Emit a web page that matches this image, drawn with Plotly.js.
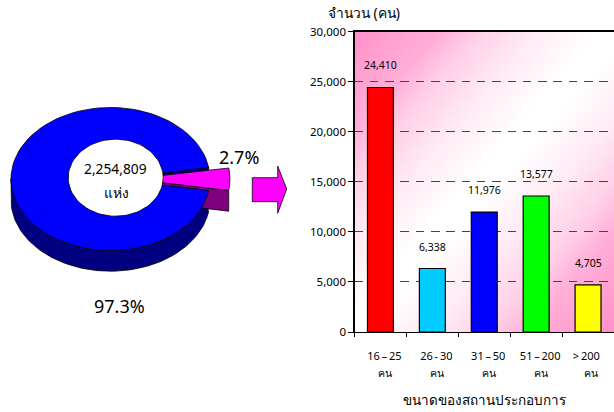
<!DOCTYPE html>
<html><head><meta charset="utf-8">
<script src="https://cdn.plot.ly/plotly-3.0.1.min.js"></script>
<style>html,body{margin:0;padding:0;background:#fff}</style>
</head><body><div id="chart" style="width:614px;height:412px"></div>
<script>
const categories = ['16\u2009–\u200925','26\u2009-\u200930','31\u2009–\u200950','51\u2009–\u2009200','>\u2009200'];
const tickLabels = ['16\u2009–\u200925','26\u2009-\u200930','31\u2009–\u200950','51\u2009–\u2009200','>\u2009200\u00a0\u00a0\u00a0\u00a0'];
const unitLabel = 'คน';
const employees = [24410, 6338, 11976, 13577, 4705];
const barColors = ['#ff0000','#00ccff','#0000ff','#00ff00','#ffff00'];
const yTicks = [0,5000,10000,15000,20000,25000,30000];
const pieLabels = ['97.3%','2.7%'];
const pieShares = [97.3, 2.7];
const totalText = '2,254,809';
const totalUnit = 'แห่ง';
const yTitle = 'จำนวน (คน)';
const xTitle = 'ขนาดของสถานประกอบการ';
const FONT = 'Noto Sans, Tahoma, sans-serif';

/* 3-D look of the pie, in page pixels (x2/y2 axes) */
const C = {x:110.5, y:179, rx:99.5, ry:71.5, depth:20.7, explode:20};
const HOLE = {x:115.7, y:177.7, rx:47.5, ry:38.5};
const sliceAngleBoost = 1.9;
const h = pieShares[1]/100*Math.PI*sliceAngleBoost;

function pt(c,t,dy){return [c.x+c.rx*Math.cos(t), c.y+c.ry*Math.sin(t)+(dy||0)];}
function arc(c,a,b,dy){const r=[];const n=90;for(let i=0;i<=n;i++)r.push(pt(c,a+(b-a)*i/n,dy));return r;}
function poly(points,fill){
  return {type:'scatter',mode:'lines',xaxis:'x2',yaxis:'y2',fill:'toself',fillcolor:fill,
    x:points.map(p=>p[0]),y:points.map(p=>p[1]),
    line:{color:'#000',width:0.8},hoverinfo:'skip',showlegend:false};
}
const tip=[C.x,C.y], EX={...C,x:C.x+C.explode};
const tipE=[EX.x,EX.y];
const wall=[...arc(C,h,Math.PI),...arc(C,Math.PI,h,C.depth)];
const cutFace=[tip,pt(C,-h),pt(C,-h,C.depth),[tip[0],tip[1]+C.depth],tip];
const blueTop=[tip,...arc(C,h,2*Math.PI-h),tip];
const sliceSide=[tipE,[tipE[0],tipE[1]+C.depth],pt(EX,h,C.depth),pt(EX,h),tipE];
const sliceTop=[tipE,...arc(EX,-h,h),tipE];
const holeShape=arc(HOLE,0,2*Math.PI);
const arrow=[[252.3,177.7],[277.7,177.7],[277.7,166],[286.7,189],[277.7,213.3],[277.7,201.7],[252.3,201.7],[252.3,177.7]];

const bars={type:'bar',x:categories,y:employees,width:0.5,
  marker:{color:barColors,line:{color:'#000',width:1.2}},hoverinfo:'skip',showlegend:false};

const valueLabels=categories.map((c,i)=>({xref:'x',yref:'y',x:c,y:employees[i],yshift:22,xanchor:'center',yanchor:'middle',
  text:employees[i].toLocaleString('en-US'),showarrow:false,font:{family:FONT,size:10.5,color:'#000'}}));
const unitLabels=categories.map((c,i)=>({xref:'x',yref:'paper',x:c,y:(412-373)/412,xshift:i===4?3:5,xanchor:'center',yanchor:'middle',
  text:unitLabel,showarrow:false,font:{family:FONT,size:10.5,color:'#000'}}));
const pieText=[
 {t:totalText,x:115,y:168,s:13.8},{t:totalUnit,x:116,y:192,s:13.8},
 {t:pieLabels[1],x:238.5,y:157,s:18},{t:pieLabels[0],x:119,y:306,s:18}
].map(o=>({xref:'x2',yref:'y2',x:o.x,y:o.y,xanchor:'center',yanchor:'middle',text:o.t,showarrow:false,font:{family:FONT,size:o.s,color:'#000'}}));

const stops=[[0,'#ff90c8'],[.17,'#ffb0d8'],[.24,'#ffcfe6'],[.35,'#ffeaf4'],[.47,'#ffffff'],[.53,'#ffffff'],[.65,'#ffeaf4'],[.76,'#ffcfe6'],[.83,'#ffb0d8'],[1,'#ff90c8']]
  .map(s=>"<stop offset='"+s[0]+"' stop-color='"+s[1]+"'/>").join('');
const grad="<svg xmlns='http://www.w3.org/2000/svg' width='260' height='300' preserveAspectRatio='none'><defs><linearGradient id='g' x1='0' y1='0' x2='1' y2='1'>"+stops+"</linearGradient></defs><rect width='260' height='300' fill='url(#g)'/></svg>";

const plotTop=31.5,plotBottom=332,plotLeft=354.5;
const layout={width:614,height:412,margin:{l:0,r:0,t:0,b:0},paper_bgcolor:'#fff',plot_bgcolor:'rgba(0,0,0,0)',
 bargap:0.5,showlegend:false,font:{family:FONT,size:11,color:'#000'},
 xaxis:{domain:[plotLeft/614,1],type:'category',range:[-0.5,4.5],tickmode:'array',tickvals:categories,ticktext:tickLabels,
   tickson:'boundaries',ticks:'outside',ticklen:4,tickcolor:'#000',showline:true,linecolor:'#000',linewidth:1.2,mirror:true,
   ticklabelshift:4,ticklabelstandoff:14,tickfont:{family:FONT,size:11,color:'#000'},
   title:{text:xTitle,font:{family:FONT,size:13.5,color:'#000'},standoff:33},showgrid:false,zeroline:false,anchor:'y'},
 yaxis:{domain:[(412-plotBottom)/412,(412-plotTop)/412],range:[0,30000],tickmode:'array',tickvals:yTicks,tickformat:',d',
   ticks:'outside',ticklen:5,tickcolor:'#000',showline:true,linecolor:'#000',linewidth:1.2,
   showgrid:true,gridcolor:'#444',gridwidth:1,griddash:'8.5px,6.8px',zeroline:false,
   tickfont:{family:FONT,size:11.5,color:'#000'},anchor:'x'},
 xaxis2:{domain:[0,1],range:[0,614],visible:false,fixedrange:true,anchor:'y2'},
 yaxis2:{domain:[0,1],range:[412,0],visible:false,fixedrange:true,anchor:'x2'},
 images:[{source:'data:image/svg+xml;charset=utf-8,'+encodeURIComponent(grad),xref:'paper',yref:'paper',
   x:plotLeft/614,y:(412-plotTop)/412,sizex:1-plotLeft/614,sizey:(plotBottom-plotTop)/412,xanchor:'left',yanchor:'top',sizing:'stretch',layer:'below'}],
 annotations:[...valueLabels,...unitLabels,...pieText,
   {xref:'paper',yref:'paper',x:364/614,y:(412-13)/412,xanchor:'center',yanchor:'middle',text:yTitle,showarrow:false,font:{family:FONT,size:13.8,color:'#000'}}]
};
const data=[bars,poly(wall,'#000080'),poly(cutFace,'#000080'),poly(sliceSide,'#800080'),poly(blueTop,'#0000ff'),poly(sliceTop,'#ff00ff'),poly(holeShape,'#fff'),poly(arrow,'#ff00ff')];
Plotly.newPlot('chart',data,layout,{displayModeBar:false,staticPlot:true});
</script></body></html>
